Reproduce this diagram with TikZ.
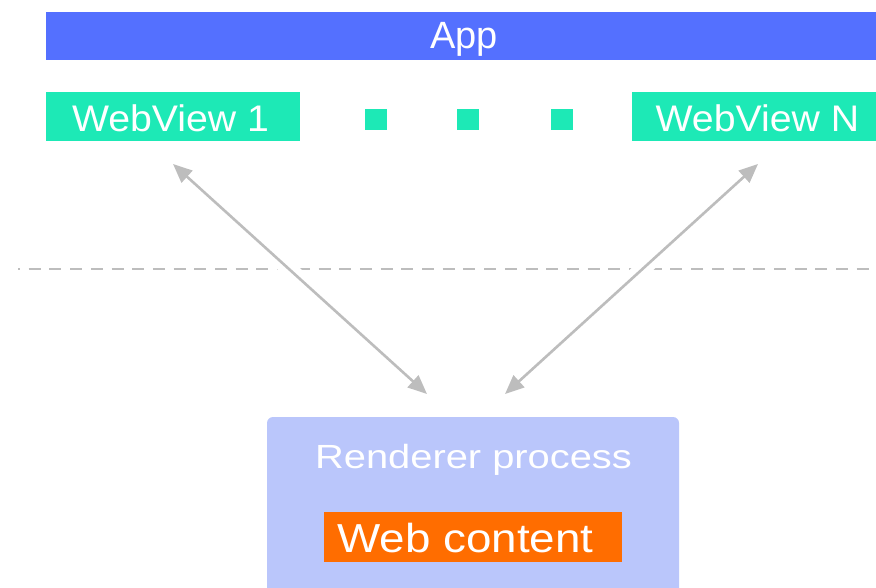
\documentclass[tikz,border=0pt]{standalone}
\usepackage{fontspec}
\usepackage{pdfrender}
\setmainfont{Liberation Sans}
\usetikzlibrary{arrows.meta}
\definecolor{appblue}{HTML}{5470FF}
\definecolor{viewgreen}{HTML}{1DE9B6}
\definecolor{procblue}{HTML}{BAC6FB}
\definecolor{contentorange}{HTML}{FF6D00}
\definecolor{linegray}{HTML}{BDBDBD}
% horizontally widened, slightly heavier text, baseline kept
\newcommand{\widetext}[2]{\scalebox{#1}[1]{\textpdfrender{TextRenderingMode=FillStroke,LineWidth=0.7pt,StrokeColor=white,FillColor=white}{#2}}}
\newcommand{\fsize}[1]{\fontsize{#1}{#1}\selectfont}

\begin{document}
\begin{tikzpicture}[x=1pt,y=-1pt,
  panel/.style={draw=none, fill=#1, inner sep=0pt, rectangle},
  caption/.style={text=white, inner sep=0pt, anchor=base},
  link/.style={draw=linegray, line width=2.6pt,
    {Triangle[length=19pt,width=16pt]}-{Triangle[length=19pt,width=16pt]}},
  halo/.style={draw=white, line width=16pt, shorten <=45pt, shorten >=45pt},
  divider/.style={draw=linegray, line width=2.6pt, dash pattern=on 12pt off 8.7pt, dash phase=10pt}]

\useasboundingbox (0,0) rectangle (876,588);
\clip (0,0) rectangle (876,588);

% application bar
\node[panel=appblue, minimum width=844pt, minimum height=48pt] (app) at (468,36) {};
\node[caption] (applabel) at (464,49) {\fsize{38}\widetext{1}{App}};

% web views
\node[panel=viewgreen, minimum width=254pt, minimum height=49pt] (wv1) at (173,116.5) {};
\node[caption] (wv1label) at (170.5,131.7) {\fsize{37}\widetext{1.06}{WebView 1}};
\node[panel=viewgreen, minimum width=22pt, minimum height=21pt] (dot1) at (375.5,119.5) {};
\node[panel=viewgreen, minimum width=22pt, minimum height=21pt] (dot2) at (467.5,119.5) {};
\node[panel=viewgreen, minimum width=22pt, minimum height=21pt] (dot3) at (561.5,119.5) {};
\node[panel=viewgreen, minimum width=258pt, minimum height=49pt] (wvN) at (761,116.5) {};
\node[caption] (wvNlabel) at (757.4,131.7) {\fsize{37}\widetext{1.06}{WebView N}};

% renderer process
\node[panel=procblue, rounded corners=6pt, minimum width=412pt, minimum height=193pt] (renderer) at (473,513.5) {};
\node[caption] (rendererlabel) at (473.5,468) {\fsize{33.5}\widetext{1.19}{Renderer process}};
\node[panel=contentorange, minimum width=298pt, minimum height=50pt] (web) at (473,537) {};
\node[caption] (weblabel) at (465.5,552.3) {\fsize{40.5}\widetext{1.13}{Web content}};

% process boundary
\coordinate (divL) at (18,269);
\coordinate (divR) at (880,269);
\draw[divider] (divL) -- (divR);

% IPC links
\coordinate (l1top) at (173,164);
\coordinate (l1bot) at (427,394);
\coordinate (lNtop) at (758,164);
\coordinate (lNbot) at (505,394);
\draw[halo] (l1top) -- (l1bot);
\draw[halo] (lNtop) -- (lNbot);
\draw[link] (l1top) -- (l1bot);
\draw[link] (lNtop) -- (lNbot);
\end{tikzpicture}
\end{document}
